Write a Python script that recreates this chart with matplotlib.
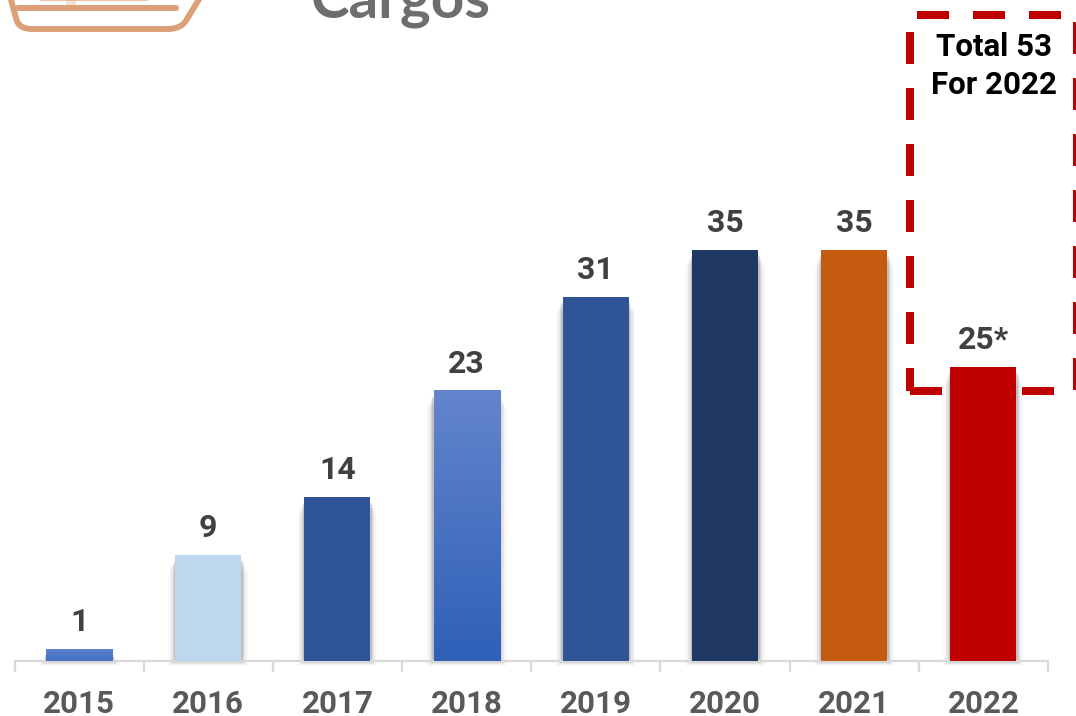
#!/usr/bin/env python3

import numpy as np
import matplotlib
matplotlib.use('Agg')
import matplotlib.pyplot as plt
from matplotlib.lines import Line2D
from matplotlib.patches import PathPatch, Rectangle
from matplotlib.path import Path

years = ['2015', '2016', '2017', '2018', '2019', '2020', '2021', '2022']
values = [1, 9, 14, 23, 31, 35, 35, 25]
value_labels = ['1', '9', '14', '23', '31', '35', '35', '25*']
top_colors = ['#5b80cf', '#bdd7ee', '#2f5597', '#6385cc', '#2f5597', '#1f3864', '#c55a11', '#c00000']
bot_colors = ['#4472c4', '#bdd7ee', '#2f5597', '#2f60b8', '#2f5597', '#1f3864', '#c55a11', '#c00000']

W, H = 1076, 716
x0, x1, y_base = 14.5, 1048, 661
px_per_unit = 11.74
px_per_cat = (x1 - x0) / 8
bar_w = 0.511

plt.rcParams['font.family'] = ['Roboto', 'DejaVu Sans']
plt.rcParams['font.weight'] = 'bold'

fig = plt.figure(figsize=(W / 100, H / 100), dpi=100)
ax = fig.add_axes([x0 / W, (H - y_base) / H, (x1 - x0) / W, y_base / H])
ax.patch.set_alpha(0)
for s in ['top', 'left', 'right'] :
	ax.spines[s].set_visible(False)
ax.spines['bottom'].set_color('#d9d9d9')
ax.spines['bottom'].set_linewidth(1.6)
ax.yaxis.set_visible(False)

ax.set_xticks(np.arange(-0.5, 8, 1))
ax.set_xticklabels([])
ax.tick_params(axis='x', length=8, width=1.6, color='#d9d9d9')
ax.set_xticks(np.arange(8), minor=True)
ax.set_xticklabels(years, minor=True, fontsize=22.5, color='#595959', va='baseline')
ax.tick_params(axis='x', which='minor', length=0, pad=37.5)

def px_line(xs, ys, **kw) :
	fig.add_artist(Line2D([x / W for x in xs], [1 - y / H for y in ys], transform=fig.transFigure, **kw))

# icon remains, top left
icon = '#dca078'
px_line([18, 176], [8, 8], color=icon, lw=4.3, solid_capstyle='round')
verts = [(10, -4), (16, 18), (18, 29), (32, 29), (168, 29), (182, 29), (187, 19), (201, -4)]
codes = [Path.MOVETO, Path.LINETO, Path.CURVE3, Path.CURVE3, Path.LINETO, Path.CURVE3, Path.CURVE3, Path.LINETO]
fig.add_artist(PathPatch(Path([(x / W, 1 - y / H) for x, y in verts], codes), transform=fig.transFigure,
	fill=False, edgecolor=icon, lw=4.3, capstyle='round', joinstyle='round'))
px_line([42, 146], [-1, -1], color=icon, lw=3, alpha=0.6)
px_line([71, 71], [0, 5], color=icon, lw=7, alpha=0.3, solid_capstyle='butt')

fig.text(311 / W, 1 - 18 / H, 'Cargos', fontsize=42, color='#6e6e6e', va='baseline', ha='left', family=['Lato', 'DejaVu Sans'])

# dashed box, behind the bars
dash = dict(color='#c00000', lw=5.76, linestyle=(0, (4, 3)), dash_capstyle='butt', zorder=0.5)
px_line([917, 1076], [15, 15], **dash)
px_line([910, 910], [32, 391], **dash)
px_line([910, 1060], [391, 391], **dash)
px_line([1077, 1077], [22, 391], **dash)

# soft shadow, on the sides and under the bars, not on top
for grow, a in zip([14, 11, 8, 5, 3], [0.025, 0.04, 0.06, 0.09, 0.13]) :
	for i, v in enumerate(values) :
		drop = (grow + 3) / px_per_unit
		ax.add_patch(Rectangle((i - bar_w / 2 - grow / 2 / px_per_cat, -grow / 3 / px_per_unit),
			bar_w + grow / px_per_cat, max(v - drop, 0) + grow / 3 / px_per_unit,
			color='#303030', alpha=a, lw=0, zorder=2, clip_on=False))

bars = ax.bar(np.arange(8), values, bar_w, color=bot_colors, lw=0, zorder=3)
for i, b in enumerate(bars) :
	if top_colors[i] != bot_colors[i] :
		c0 = np.array(matplotlib.colors.to_rgb(top_colors[i]))
		c1 = np.array(matplotlib.colors.to_rgb(bot_colors[i]))
		t = np.linspace(0, 1, 128)[:, None, None]
		grad = c0[None, None, :] * (1 - t) + c1[None, None, :] * t
		ax.imshow(grad, extent=(i - bar_w / 2, i + bar_w / 2, 0, values[i]), aspect='auto', zorder=4)
ax.set_xlim(-0.5, 7.5)
ax.set_ylim(0, y_base / px_per_unit)

for i, v in enumerate(values) :
	ax.annotate(value_labels[i], (i, v), xytext=(0, 13), textcoords='offset points', ha='center', va='baseline', fontsize=23, color='#404040', zorder=6)

fig.text(993.5 / W, 1 - 56 / H, 'Total 53', fontsize=22.5, color='black', ha='center', va='baseline')
fig.text(994 / W, 1 - 94 / H, 'For 2022', fontsize=22.5, color='black', ha='center', va='baseline')

fig.savefig('out.png', dpi=100)
